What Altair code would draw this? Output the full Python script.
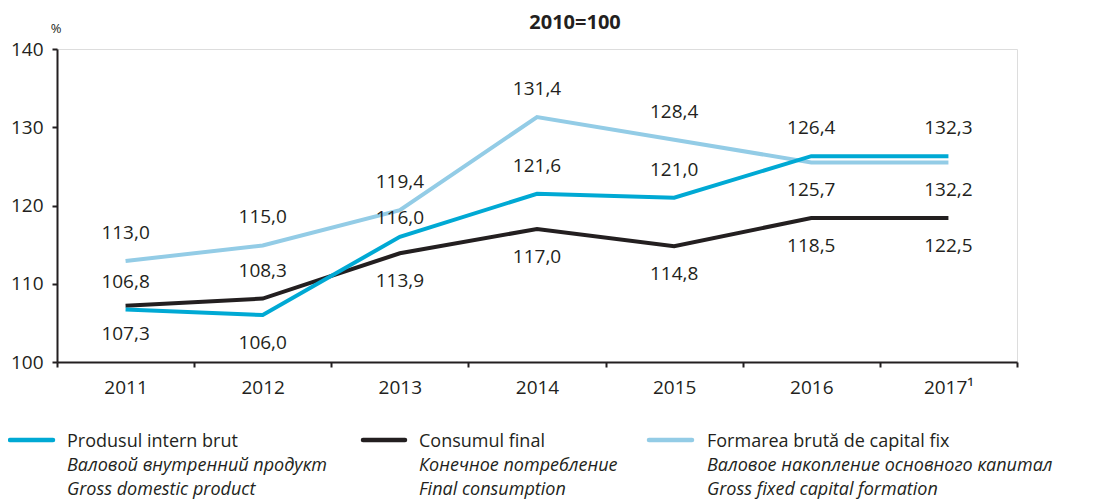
import altair as alt
import pandas as pd

# ---------------- data ----------------
years = ["2011", "2012", "2013", "2014", "2015", "2016", "2017¹"]

series = ["Produsul intern brut", "Consumul final", "Formarea brută de capital fix"]
series_ru = ["Валовой внутренний продукт", "Конечное потребление",
             "Валовое накопление основного капитал"]
series_en = ["Gross domestic product", "Final consumption", "Gross fixed capital formation"]
colors = ["#00a9d4", "#231f20", "#93cce6"]

# values as drawn by the lines (2017 point drawn at the 2016 level in the source)
pib_line = [106.7, 106.0, 116.0, 121.5, 121.0, 126.3, 126.3]
cons_line = [107.2, 108.1, 113.9, 117.0, 114.8, 118.4, 118.4]
fbcf_line = [112.9, 114.9, 119.4, 131.3, 128.4, 125.5, 125.5]

# values printed as labels
pib_lab = [106.8, 106.0, 116.0, 121.6, 121.0, 126.4, 132.3]
cons_lab = [107.3, 108.3, 113.9, 117.0, 114.8, 118.5, 122.5]
fbcf_lab = [113.0, 115.0, 119.4, 131.4, 128.4, 125.7, 132.2]

# side of the line where each label sits
pib_side = ["above", "below", "near", "above", "above", "above", "above"]
cons_side = ["below", "above", "below", "below", "below", "below", "below"]
fbcf_side = ["above", "above", "above", "above", "above", "below", "below"]

y_ticks = [100, 110, 120, 130, 140]


def fmt(v):
    return f"{v:.1f}".replace(".", ",")


rows = []
for s, line, lab, side in zip(series,
                              [pib_line, cons_line, fbcf_line],
                              [pib_lab, cons_lab, fbcf_lab],
                              [pib_side, cons_side, fbcf_side]):
    for yr, v, l, sd in zip(years, line, lab, side):
        rows.append({"year": yr, "series": s, "value": v, "label": fmt(l), "side": sd})
df = pd.DataFrame(rows)

FONT = "Open Sans"
INK = "#231f20"
W, H = 960, 313

xenc = alt.X(
    "year:N", sort=years, bandPosition=0.5,
    scale=alt.Scale(type="band", paddingInner=0, paddingOuter=0),
    axis=alt.Axis(title=None, labelAngle=0, tickBand="extent", tickSize=5,
                  tickWidth=2, tickColor=INK, domainColor=INK, domainWidth=2,
                  labelFont=FONT, labelFontSize=19, labelColor=INK,
                  labelPadding=11, grid=False),
)
yenc = alt.Y(
    "value:Q",
    scale=alt.Scale(domain=[100, 140], nice=False, zero=False),
    axis=alt.Axis(title=None, values=y_ticks, tickSize=5, tickWidth=2,
                  tickColor=INK, domainColor=INK, domainWidth=2,
                  labelFont=FONT, labelFontSize=19, labelColor=INK,
                  labelPadding=9, grid=False),
)

base = alt.Chart(df)

layers = []
for s, c in [(series[2], colors[2]), (series[1], colors[1]), (series[0], colors[0])]:
    layers.append(
        base.transform_filter(alt.datum.series == s)
        .mark_line(strokeWidth=4, color=c)
        .encode(x=xenc, y=yenc)
    )

for sd, dy in [("above", -28), ("below", 28), ("near", -19)]:
    layers.append(
        base.transform_filter(alt.datum.side == sd)
        .mark_text(dy=dy, font=FONT, fontSize=19, color=INK, baseline="middle")
        .encode(x=xenc, y=yenc, text="label:N")
    )

one = pd.DataFrame({"k": [0]})

# title and unit
layers.append(
    alt.Chart(one).mark_text(text="2010=100", font=FONT, fontSize=20,
                             fontWeight="bold", color=INK, baseline="alphabetic")
    .encode(x=alt.value(518), y=alt.value(-20))
)
layers.append(
    alt.Chart(one).mark_text(text="%", font=FONT, fontSize=13, color=INK,
                             baseline="alphabetic")
    .encode(x=alt.value(-1), y=alt.value(-16))
)

# legend
sym_x = [(-47, -4), (306, 348), (592, 635)]
txt_x = [10, 362, 650]
row_y = [398, 422, 446]
for i in range(3):
    layers.append(
        alt.Chart(one).mark_rule(color=colors[i], strokeWidth=4.5, strokeCap="round")
        .encode(x=alt.value(sym_x[i][0]), x2=alt.value(sym_x[i][1]), y=alt.value(391))
    )
    for j, (t, style) in enumerate([(series[i], "normal"), (series_ru[i], "italic"),
                                    (series_en[i], "italic")]):
        layers.append(
            alt.Chart(one).mark_text(text=t, font=FONT, fontSize=18, fontStyle=style,
                                     color=INK, align="left", baseline="alphabetic")
            .encode(x=alt.value(txt_x[i]), y=alt.value(row_y[j]))
        )

chart = alt.layer(*layers).properties(
    width=W, height=H,
    autosize=alt.AutoSizeParams(type="none"),
    padding={"left": 49, "top": 41, "right": 60, "bottom": 140},
).configure_view(stroke=None).configure(background="white")

chart.save("out.html", embed_options={"renderer": "svg", "actions": False})
